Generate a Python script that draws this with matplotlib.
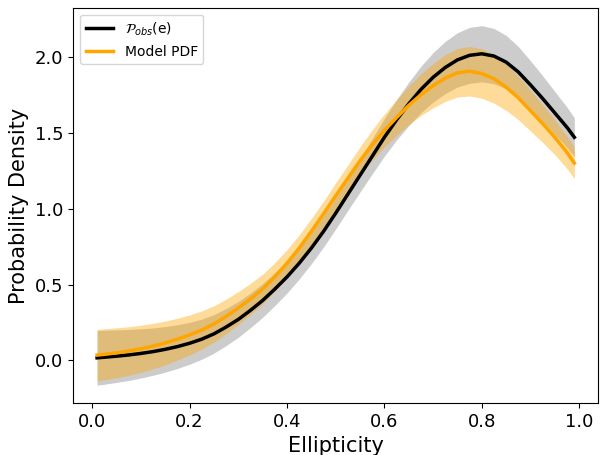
import numpy as np
import matplotlib
matplotlib.use('Agg')
import matplotlib.pyplot as plt

# Ellipticity grid
e = [0.01, 0.025, 0.05, 0.075, 0.10, 0.125, 0.15, 0.175, 0.20, 0.225,
     0.25, 0.275, 0.30, 0.325, 0.35, 0.375, 0.40, 0.425, 0.45, 0.475,
     0.50, 0.525, 0.55, 0.575, 0.60, 0.625, 0.65, 0.675, 0.70, 0.725,
     0.75, 0.775, 0.80, 0.825, 0.85, 0.875, 0.90, 0.925, 0.95, 0.975, 0.99]

# Observed distribution P_obs(e) and its spread
p_obs = [0.017, 0.021, 0.028, 0.036, 0.046, 0.058, 0.073, 0.091, 0.113, 0.14,
         0.175, 0.22, 0.27, 0.33, 0.395, 0.47, 0.55, 0.64, 0.74, 0.85,
         0.97, 1.095, 1.22, 1.345, 1.47, 1.585, 1.69, 1.785, 1.865, 1.93,
         1.98, 2.01, 2.02, 2.005, 1.965, 1.90, 1.815, 1.725, 1.63, 1.535, 1.47]
p_obs_sd = [0.18, 0.178, 0.173, 0.168, 0.162, 0.156, 0.15, 0.144, 0.138, 0.132,
            0.127, 0.122, 0.118, 0.114, 0.111, 0.108, 0.106, 0.104, 0.103, 0.103,
            0.104, 0.106, 0.11, 0.116, 0.124, 0.133, 0.143, 0.153, 0.163, 0.172,
            0.179, 0.184, 0.185, 0.182, 0.176, 0.168, 0.159, 0.15, 0.141, 0.133, 0.128]

# Model PDF and its spread
model = [0.035, 0.04, 0.05, 0.062, 0.077, 0.094, 0.115, 0.14, 0.168, 0.20,
         0.24, 0.29, 0.345, 0.405, 0.47, 0.55, 0.64, 0.74, 0.85, 0.965,
         1.085, 1.20, 1.315, 1.42, 1.515, 1.60, 1.68, 1.75, 1.81, 1.86,
         1.895, 1.905, 1.89, 1.855, 1.80, 1.73, 1.645, 1.56, 1.47, 1.37, 1.30]
model_sd = [0.17, 0.168, 0.165, 0.16, 0.155, 0.15, 0.144, 0.138, 0.132, 0.126,
            0.12, 0.114, 0.108, 0.103, 0.098, 0.094, 0.09, 0.087, 0.085, 0.084,
            0.085, 0.088, 0.093, 0.10, 0.108, 0.117, 0.127, 0.137, 0.146, 0.154,
            0.16, 0.163, 0.163, 0.16, 0.153, 0.144, 0.134, 0.124, 0.115, 0.107, 0.103]

e = np.array(e)
p_obs = np.array(p_obs)
p_obs_sd = np.array(p_obs_sd)
model = np.array(model)
model_sd = np.array(model_sd)

fig = plt.figure(figsize=(6, 4.55), dpi=100)
ax = fig.add_subplot()
fig.subplots_adjust(left=0.122, right=0.997, top=0.983, bottom=0.114)

# Bands first, then the curves on top
ax.fill_between(e, p_obs - p_obs_sd, p_obs + p_obs_sd, color='gray', alpha=0.4, lw=0)
ax.fill_between(e, model - model_sd, model + model_sd, color='orange', alpha=0.4, lw=0)
ax.plot(e, p_obs, c='black', lw=2.5, label=r'$\mathcal{P}_{obs}$(e)')
ax.plot(e, model, c='orange', lw=2.5, label='Model PDF')

ax.set_xlabel('Ellipticity', fontsize=15)
ax.set_ylabel('Probability Density', fontsize=15)
ax.tick_params(labelsize=13)
ax.legend(loc='upper left', fontsize=10)

fig.savefig('out.png', dpi=100)
